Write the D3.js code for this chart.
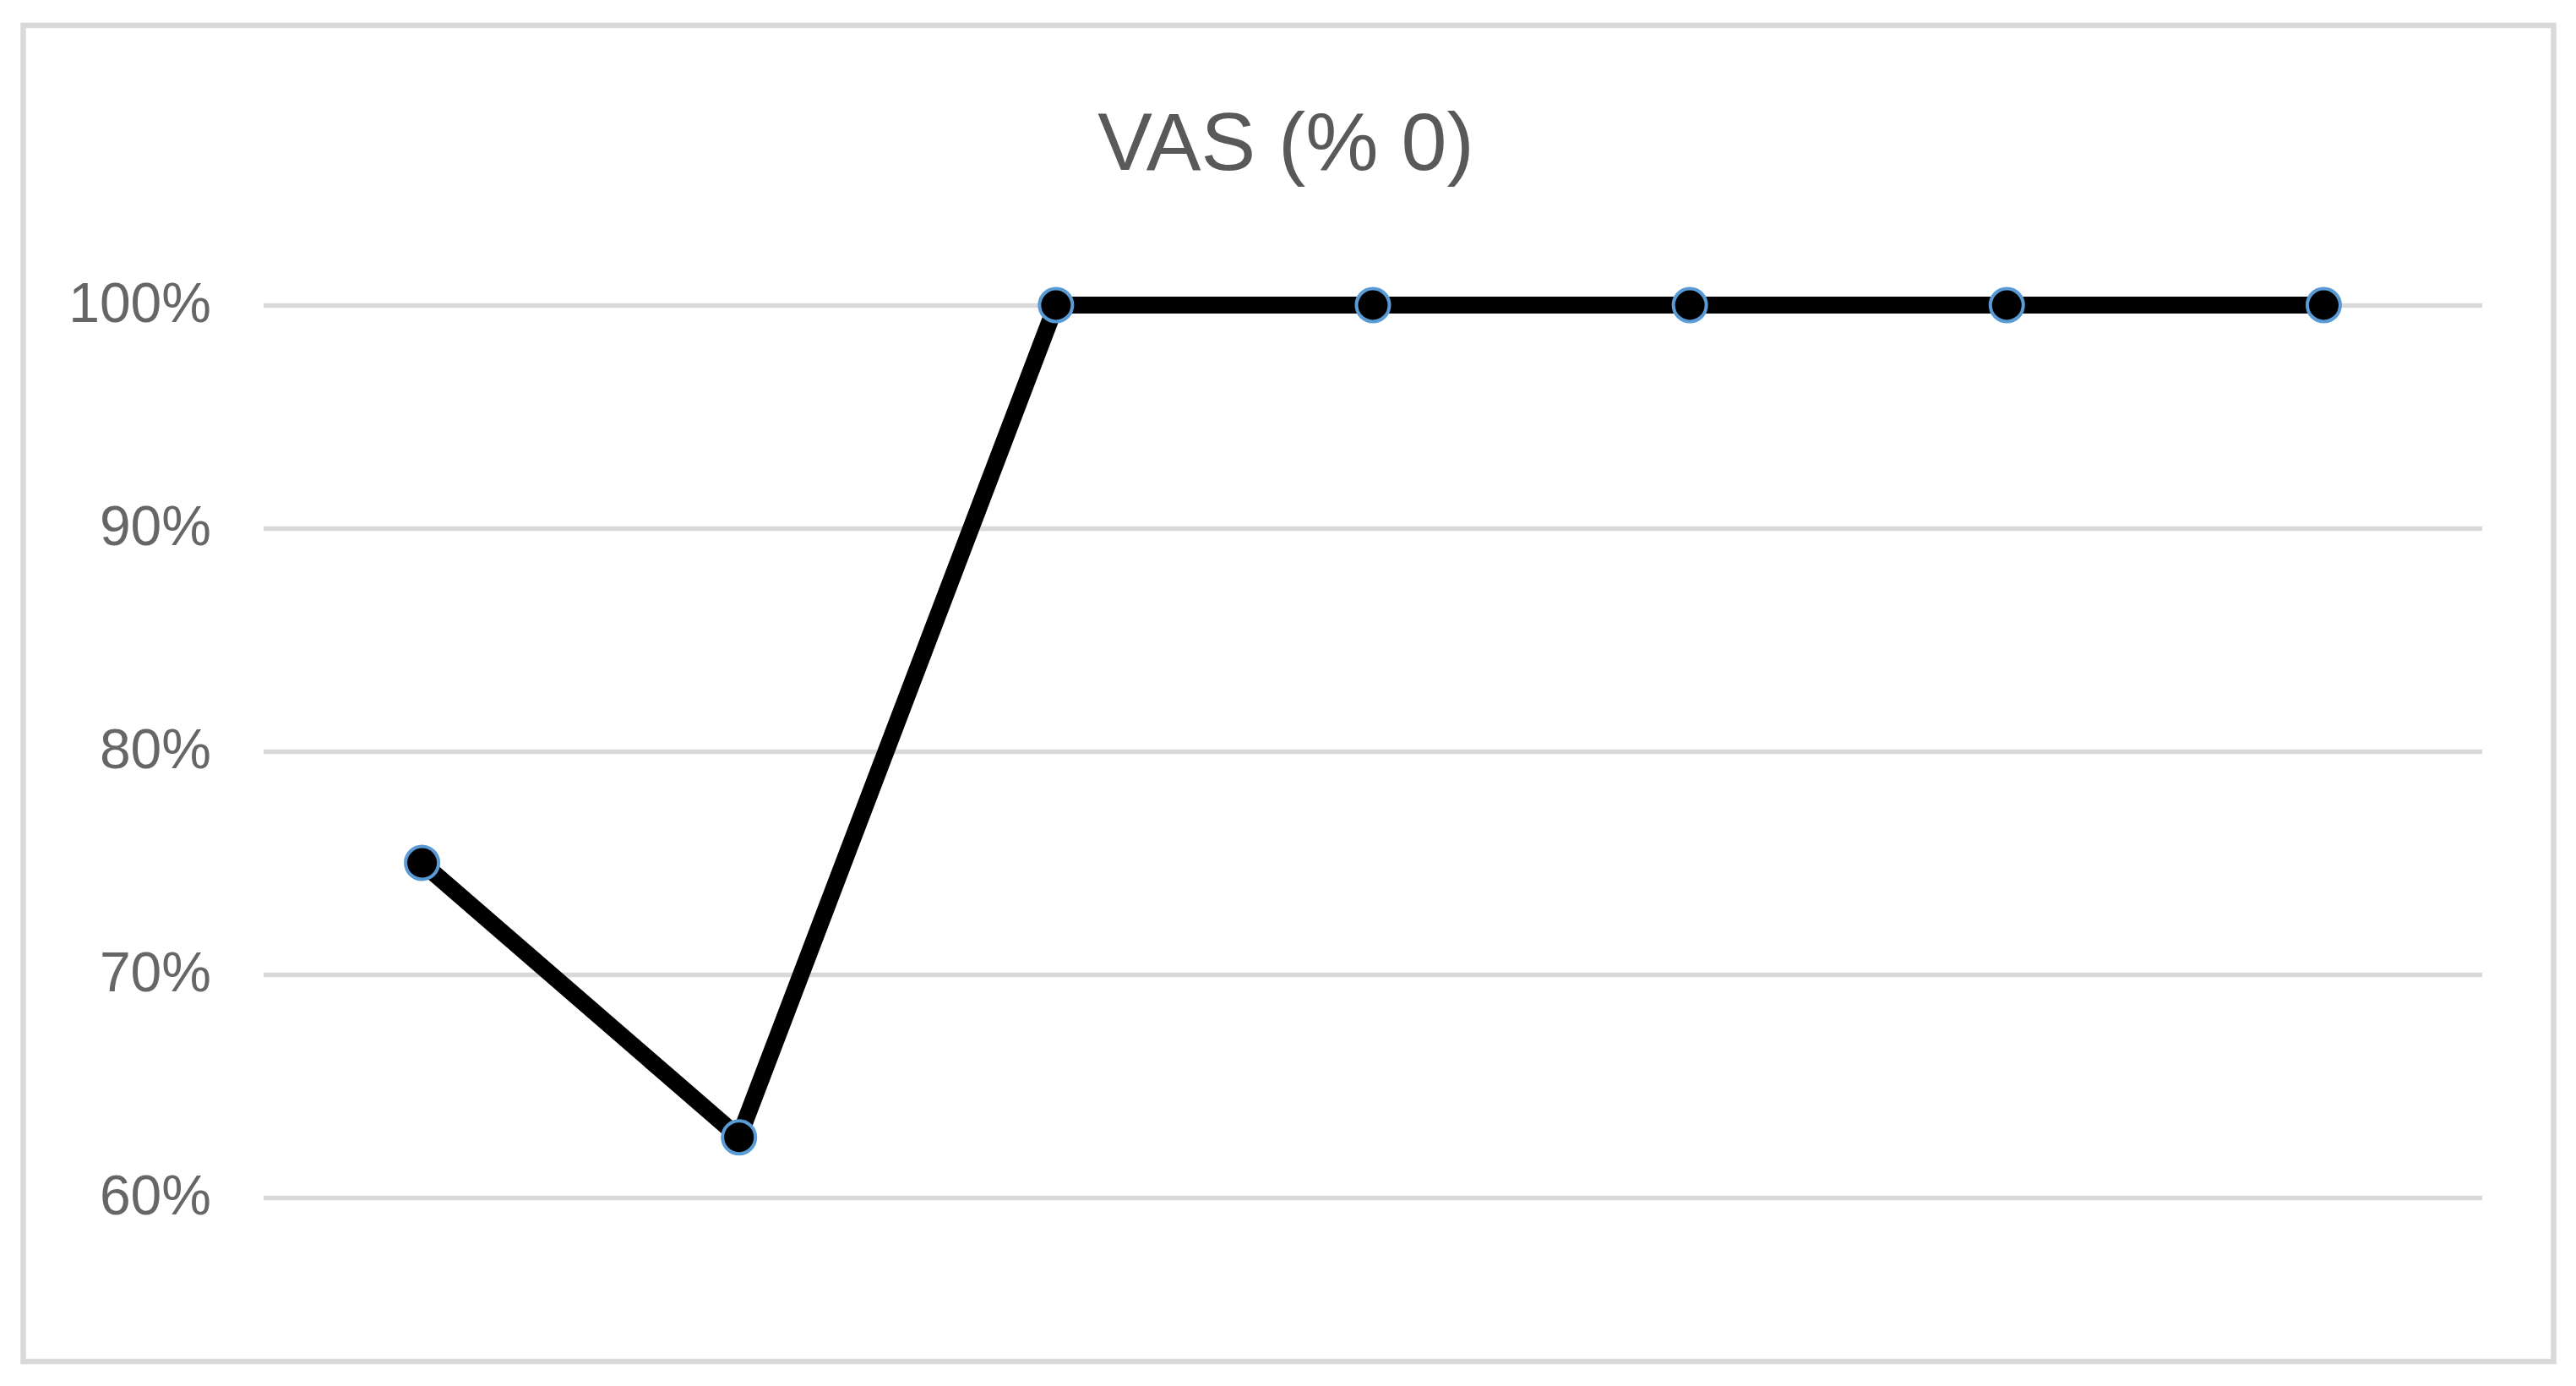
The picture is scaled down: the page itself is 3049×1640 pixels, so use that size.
<!DOCTYPE html>
<html>
<head>
<meta charset="utf-8">
<script src="https://cdn.jsdelivr.net/npm/d3@7"></script>
<style>
  html, body { margin: 0; padding: 0; background: #ffffff; }
  svg { display: block; }
</style>
</head>
<body>
<script>
// ---- data ----
const title = "VAS (% 0)";
const categories = ["T1", "T2", "T3", "T4", "T5", "T6", "T7"];
const values = [0.75, 0.627, 1.0, 1.0, 1.0, 1.0, 1.0];
const yTicks = [0.6, 0.7, 0.8, 0.9, 1.0];

// ---- layout ----
const W = 3049, H = 1640;
const plot = { left: 312, right: 2938, top: 361, bottom: 1417 };

const svg = d3.select("body").append("svg")
  .attr("width", W).attr("height", H);

svg.append("rect").attr("width", W).attr("height", H).attr("fill", "#ffffff");

// chart border
svg.append("rect")
  .attr("x", 27.5).attr("y", 30)
  .attr("width", 3022.5 - 27.5).attr("height", 1611 - 30)
  .attr("fill", "none").attr("stroke", "#d9d9d9").attr("stroke-width", 6.5);

const x = d3.scaleBand().domain(categories).range([plot.left, plot.right]);
const y = d3.scaleLinear().domain([0.6, 1.0]).range([plot.bottom, plot.top]);

// gridlines
const grid = svg.append("g")
  .attr("transform", `translate(${plot.left},0)`)
  .call(d3.axisLeft(y).tickValues(yTicks).tickSize(-(plot.right - plot.left)).tickFormat(""));
grid.select(".domain").remove();
grid.selectAll(".tick line").attr("stroke", "#d9d9d9").attr("stroke-width", 5.5);

// y tick labels
const yAxis = svg.append("g")
  .attr("transform", `translate(${plot.left - 62},0)`)
  .call(d3.axisLeft(y).tickValues(yTicks).tickSize(0).tickPadding(0).tickFormat(d3.format(".0%")));
yAxis.select(".domain").remove();
yAxis.selectAll(".tick text")
  .attr("fill", "#666666")
  .attr("font-family", "'Liberation Sans', Arial, sans-serif")
  .attr("font-size", 66)
  .attr("dy", "0.30em");

// line
const line = d3.line()
  .x((d, i) => x(categories[i]) + x.bandwidth() / 2)
  .y(d => y(d));

svg.append("path")
  .datum(values)
  .attr("d", line)
  .attr("fill", "none")
  .attr("stroke", "#000000")
  .attr("stroke-width", 20)
  .attr("stroke-linejoin", "round");

// markers
svg.append("g").selectAll("circle")
  .data(values)
  .join("circle")
  .attr("cx", (d, i) => x(categories[i]) + x.bandwidth() / 2)
  .attr("cy", d => y(d))
  .attr("r", 19.5)
  .attr("fill", "#000000")
  .attr("stroke", "#5b9bd5")
  .attr("stroke-width", 4);

// title
svg.append("text")
  .attr("x", 1522)
  .attr("y", 201)
  .attr("text-anchor", "middle")
  .attr("fill", "#595959")
  .attr("font-family", "'Liberation Sans', Arial, sans-serif")
  .attr("font-size", 97)
  .text(title);
</script>
</body>
</html>
